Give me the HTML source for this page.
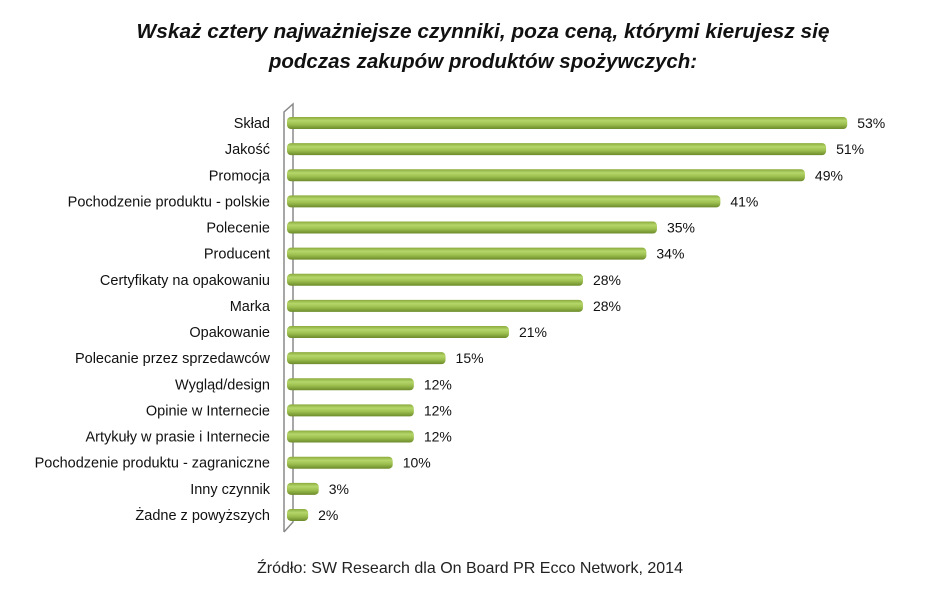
<!DOCTYPE html>
<html><head><meta charset="utf-8"><style>
body{margin:0;background:#fff;width:929px;height:597px;overflow:hidden;font-family:"Liberation Sans","DejaVu Sans",sans-serif}
</style></head><body>
<svg width="929" height="597" xmlns="http://www.w3.org/2000/svg">
<defs>
<linearGradient id="g" x1="0" y1="0" x2="0" y2="1">
<stop offset="0" stop-color="#8aaa3c"/><stop offset="0.3" stop-color="#b5d66a"/><stop offset="0.6" stop-color="#9dc050"/><stop offset="1" stop-color="#6c8a2a"/>
</linearGradient>
</defs>
<g font-family="Liberation Sans, sans-serif" font-weight="bold" font-style="italic" font-size="20.5" text-anchor="middle" fill="#111">
<text x="483" y="38" textLength="693" lengthAdjust="spacingAndGlyphs">Wskaż cztery najważniejsze czynniki, poza ceną, którymi kierujesz się</text>
<text x="483" y="68">podczas zakupów produktów spożywczych:</text>
</g>
<polyline points="284,532 284,112 293,104 293,522 284,532" fill="none" stroke="#8a8a8a" stroke-width="1.5"/>
<g id="bars" font-size="13" fill="#111"></g>
<text x="470" y="573" text-anchor="middle" font-size="16" fill="#222">Źródło: SW Research dla On Board PR Ecco Network, 2014</text>
</svg>
<script>
var d=[["Skład",53],["Jakość",51],["Promocja",49],["Pochodzenie produktu - polskie",41],["Polecenie",35],["Producent",34],["Certyfikaty na opakowaniu",28],["Marka",28],["Opakowanie",21],["Polecanie przez sprzedawców",15],["Wygląd/design",12],["Opinie w Internecie",12],["Artykuły w prasie i Internecie",12],["Pochodzenie produktu - zagraniczne",10],["Inny czynnik",3],["Żadne z powyższych",2]];
var g=document.getElementById('bars'),s='';
d.forEach(function(e,i){var cy=123+i*26.13,w=e[1]*10.57;
s+='<text x="270" y="'+(cy+5)+'" text-anchor="end" font-size="14.5">'+e[0]+'</text>';
s+='<rect x="287" y="'+(cy-6)+'" width="'+w+'" height="12" rx="4" fill="url(#g)"/>';
s+='<text x="'+(287+w+10)+'" y="'+(cy+5)+'" font-size="14">'+e[1]+'%</text>';});
g.innerHTML=s;
</script>
</body></html>
